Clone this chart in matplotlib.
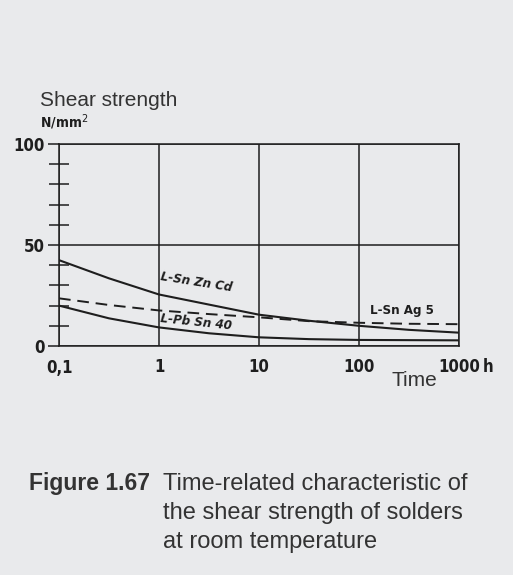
import matplotlib.pyplot as plt
from matplotlib.ticker import FixedLocator, NullLocator, FixedFormatter

# time in hours (log scale), shear strength in N/mm2
hours = [0.1, 0.316, 1, 3.16, 10, 31.6, 100, 316, 1000]
sn_zn_cd = [42.5, 33.5, 25.5, 20.5, 15.5, 12.5, 10.0, 8.0, 6.6]
pb_sn_40 = [20.0, 13.7, 9.2, 6.3, 4.3, 3.4, 3.0, 2.9, 2.8]
sn_ag_5 = [23.6, 20.3, 17.6, 15.8, 14.2, 12.3, 11.5, 11.0, 10.8]

x_ticks = [0.1, 1, 10, 100, 1000]
x_labels = ['0,1', '1', '10', '100', '1000']
y_ticks = [0, 50, 100]
y_minor = [10, 20, 30, 40, 60, 70, 80, 90]

W, H = 513, 575
bg = '#e9eaec'
ink = '#1e1e1e'
narrow = dict(family='DejaVu Sans', stretch='condensed', weight='bold')

fig = plt.figure(figsize=(W / 100, H / 100), dpi=100, facecolor=bg)
ax = fig.add_axes([59 / W, 1 - 346 / H, 400 / W, 202 / H], facecolor=bg)

ax.plot(hours, sn_zn_cd, color=ink, lw=1.5)
ax.plot(hours, pb_sn_40, color=ink, lw=1.5)
ax.plot(hours, sn_ag_5, color=ink, lw=1.4, dashes=(6, 3.5))

ax.set_xscale('log')
ax.set_xlim(0.1, 1000)
ax.set_ylim(0, 100)

ax.xaxis.set_major_locator(FixedLocator(x_ticks))
ax.xaxis.set_major_formatter(FixedFormatter(x_labels))
ax.xaxis.set_minor_locator(NullLocator())
ax.yaxis.set_major_locator(FixedLocator(y_ticks))
ax.yaxis.set_minor_locator(FixedLocator(y_minor))

ax.tick_params(axis='x', length=0, pad=9, labelsize=12, colors=ink)
ax.tick_params(axis='y', which='major', direction='out', length=8,
               width=1.1, pad=2, labelsize=12, colors=ink)
ax.tick_params(axis='y', which='minor', direction='inout', length=14.5,
               width=1.1, colors=ink)
for lab in ax.get_xticklabels() + ax.get_yticklabels():
    lab.set_fontstretch('condensed')
    lab.set_weight('bold')

ax.grid(True, which='major', color=ink, lw=1.1)
for s in ax.spines.values():
    s.set_color(ink)
    s.set_linewidth(1.1)

# curve labels
ax.text(1.02, 25.5, 'L-Sn Zn Cd', style='italic', fontsize=9.5, color=ink,
        rotation=-9, va='bottom', ha='left', **narrow)
ax.text(1.02, 6.5, 'L-Pb Sn 40', style='italic', fontsize=9.5, color=ink,
        rotation=-6, va='bottom', ha='left', **narrow)
ax.text(128, 14.5, 'L-Sn Ag 5', fontsize=9.5, color=ink,
        va='bottom', ha='left', **narrow)

# axis titles
fig.text(40 / W, 1 - 100 / H, 'Shear strength', fontsize=15,
         family='Liberation Sans', color='#333333', va='center')
fig.text(40 / W, 1 - 122 / H, r'N/mm$^2$', fontsize=10, color=ink,
         va='center', **narrow)
fig.text(483 / W, 1 - 367 / H, 'h', fontsize=12, color=ink, va='center',
         **narrow)
fig.text(392 / W, 1 - 381 / H, 'Time', fontsize=15, family='Liberation Sans',
         color='#333333', va='center')

# caption
fig.text(29 / W, 1 - 490 / H, 'Figure 1.67', fontsize=16.5, weight='bold',
         family='Liberation Sans', color='#333333', va='baseline')
caption = ['Time-related characteristic of', 'the shear strength of solders',
           'at room temperature']
for i, line in enumerate(caption):
    fig.text(163 / W, 1 - (490 + 29 * i) / H, line, fontsize=17,
             family='Liberation Sans', color='#333333', va='baseline')

fig.savefig('out.png', dpi=100, facecolor=bg)
